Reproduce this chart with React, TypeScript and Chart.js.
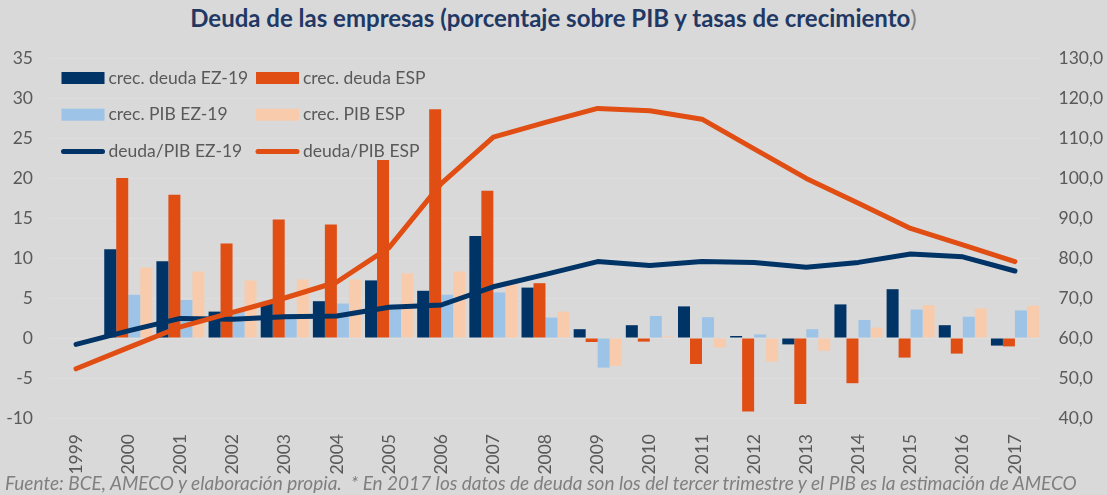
import React, { useEffect, useRef } from "react";
import { Chart, registerables } from "chart.js";

Chart.register(...registerables);

const years = ["1999","2000","2001","2002","2003","2004","2005","2006","2007","2008","2009","2010","2011","2012","2013","2014","2015","2016","2017"];
const crecDeudaEZ = [null, 11.1, 9.6, 3.3, 4.45, 4.6, 7.2, 5.9, 12.75, 6.3, 1.1, 1.6, 3.95, 0.25, -0.8, 4.2, 6.1, 1.6, -0.95];
const crecDeudaESP = [null, 20.0, 17.9, 11.8, 14.8, 14.2, 22.25, 28.6, 18.4, 6.85, -0.5, -0.45, -3.25, -9.2, -8.25, -5.65, -2.45, -1.95, -1.05];
const crecPibEZ = [null, 5.4, 4.75, 3.5, 3.0, 4.3, 4.2, 5.4, 5.7, 2.55, -3.7, 2.75, 2.6, 0.45, 1.1, 2.25, 3.55, 2.65, 3.45];
const crecPibESP = [null, 8.8, 8.3, 7.2, 7.3, 7.3, 8.1, 8.3, 6.8, 3.3, -3.5, 0.2, -1.2, -2.95, -1.6, 1.3, 4.1, 3.7, 4.05];
const deudaPibEZ = [58.4, 61.8, 64.9, 64.7, 65.3, 65.5, 67.7, 68.25, 72.8, 75.9, 79.1, 78.1, 79.1, 78.9, 77.7, 78.9, 81.0, 80.3, 76.75];
const deudaPibESP = [52.3, 57.6, 62.8, 66.4, 70.0, 74.0, 82.6, 98.6, 110.2, 113.9, 117.4, 116.8, 114.7, 107.3, 99.9, 93.7, 87.4, 83.3, 79.1];

const leftTicks = { min: -10, max: 35, step: 5 };
const rightTicks = { min: 40, max: 130, step: 10 };

const TITLE = "Deuda de las empresas (porcentaje sobre PIB y tasas de crecimiento";
const FOOTER = "Fuente: BCE, AMECO y elaboración propia.  * En 2017 los datos de deuda son los del tercer trimestre y el PIB es la estimación de AMECO";

const NAVY = "#003366";
const ORANGE = "#e04e14";
const LIGHTBLUE = "#9dc3e6";
const PEACH = "#f8cbad";
const BG = "#d9d9d9";
const TEXT = "#595959";
const FONT = "Lato";

const legendPlugin = {
  id: "insideLegend",
  afterDraw(chart: any) {
    const ctx = chart.ctx;
    const ds = chart.data.datasets;
    const cols = [61.5, 256];
    const rows = [78, 114.7, 151.5];
    ctx.save();
    ctx.font = `17.5px ${FONT}`;
    ctx.textBaseline = "middle";
    ctx.textAlign = "left";
    ds.forEach((d: any, i: number) => {
      const cx = cols[i % 2];
      const cy = rows[Math.floor(i / 2)];
      if (d.type === "line") {
        ctx.strokeStyle = d.borderColor;
        ctx.lineWidth = 5;
        ctx.lineCap = "round";
        ctx.beginPath();
        ctx.moveTo(cx + 2, cy);
        ctx.lineTo(cx + 41, cy);
        ctx.stroke();
      } else {
        ctx.fillStyle = d.backgroundColor;
        ctx.fillRect(cx, cy - 6, 43, 12);
      }
      ctx.fillStyle = TEXT;
      ctx.fillText(d.label, cx + 47, cy);
    });
    ctx.restore();
  },
};

export default function App() {
  const ref = useRef<HTMLCanvasElement | null>(null);
  useEffect(() => {
    document.body.style.margin = "0";
    const chart = new Chart(ref.current as HTMLCanvasElement, {
      type: "bar",
      data: {
        labels: years,
        datasets: [
          { type: "bar", label: "crec. deuda EZ-19", data: crecDeudaEZ, backgroundColor: NAVY, yAxisID: "y", order: 2 },
          { type: "bar", label: "crec. deuda ESP", data: crecDeudaESP, backgroundColor: ORANGE, yAxisID: "y", order: 2 },
          { type: "bar", label: "crec. PIB EZ-19", data: crecPibEZ, backgroundColor: LIGHTBLUE, yAxisID: "y", order: 2 },
          { type: "bar", label: "crec. PIB ESP", data: crecPibESP, backgroundColor: PEACH, yAxisID: "y", order: 2 },
          { type: "line", label: "deuda/PIB EZ-19", data: deudaPibEZ, borderColor: NAVY, backgroundColor: NAVY, borderWidth: 5, pointRadius: 0, tension: 0, yAxisID: "y1", order: 1, borderCapStyle: "round", borderJoinStyle: "round" },
          { type: "line", label: "deuda/PIB ESP", data: deudaPibESP, borderColor: ORANGE, backgroundColor: ORANGE, borderWidth: 5, pointRadius: 0, tension: 0, yAxisID: "y1", order: 0, borderCapStyle: "round", borderJoinStyle: "round" },
        ] as any,
      },
      options: {
        responsive: false,
        animation: false,
        layout: { padding: { top: 58, bottom: 0, left: 0, right: 0 } },
        datasets: { bar: { categoryPercentage: 0.92, barPercentage: 1.0 } },
        plugins: { legend: { display: false }, tooltip: { enabled: false }, title: { display: false } },
        scales: {
          x: {
            type: "category",
            offset: true,
            grid: { display: false, drawTicks: false },
            border: { display: false },
            ticks: { minRotation: 90, maxRotation: 90, padding: 16, color: TEXT, font: { family: FONT, size: 17.5 } },
            afterFit: (s: any) => { s.height = 77; },
          },
          y: {
            position: "left",
            min: leftTicks.min,
            max: leftTicks.max,
            ticks: { stepSize: leftTicks.step, padding: 17, color: TEXT, font: { family: FONT, size: 17.5 } },
            grid: { color: "#dedede", lineWidth: 1, drawTicks: false },
            border: { display: false },
            afterFit: (s: any) => { s.width = 50; },
          },
          y1: {
            position: "right",
            min: rightTicks.min,
            max: rightTicks.max,
            ticks: {
              stepSize: rightTicks.step,
              padding: 17.5,
              color: TEXT,
              font: { family: FONT, size: 17.5 },
              callback: (v: any) => Number(v).toFixed(1).replace(".", ","),
            },
            grid: { drawOnChartArea: false, drawTicks: false },
            border: { display: false },
            afterFit: (s: any) => { s.width = 66; },
          },
        },
      },
      plugins: [legendPlugin],
    });
    return () => chart.destroy();
  }, []);

  return (
    <div style={{ position: "absolute", left: 0, top: 0, width: 1107, height: 495, background: BG, overflow: "hidden" }}>
      <div style={{ position: "absolute", left: 0, top: 3, width: 1107, textAlign: "center", fontFamily: FONT, fontWeight: 700, fontSize: 24, lineHeight: "30px", color: "#1f3864", whiteSpace: "nowrap" }}>
        {TITLE}<span style={{ color: "#7f7f7f", fontWeight: 400 }}>)</span>
      </div>
      <canvas ref={ref} width={1107} height={495} style={{ position: "absolute", left: 0, top: 0, width: 1107, height: 495 }} />
      <div style={{ position: "absolute", left: 5, top: 471, lineHeight: "24px", whiteSpace: "pre", fontFamily: FONT, fontStyle: "italic", fontSize: 19, color: "#7f7f7f" }}>
        {FOOTER}
      </div>
    </div>
  );
}
